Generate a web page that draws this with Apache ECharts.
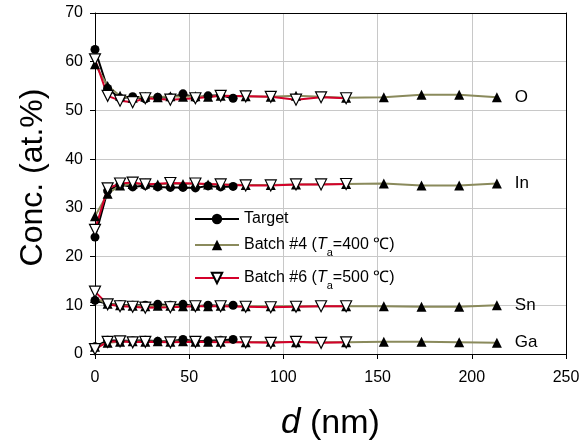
<!DOCTYPE html>
<html><head><meta charset="utf-8">
<script src="https://cdn.jsdelivr.net/npm/echarts@6/dist/echarts.min.js"></script>
<style>html,body{margin:0;padding:0;background:#fff}#c{width:585px;height:443px}</style>
</head><body><div id="c"></div>
<script>
var elements = ['O', 'In', 'Sn', 'Ga'];
var xTicks = [0, 50, 100, 150, 200, 250];
var yTicks = [0, 10, 20, 30, 40, 50, 60, 70];

var targetX = [0, 6.7, 13.3, 20, 26.7, 33.3, 40, 46.7, 53.3, 60, 66.7, 73.3];
var targetO  = [62.5, 54.5, 52.5, 52.8, 52.4, 52.7, 52.6, 53.4, 52.6, 53.0, 53.1, 52.5];
var targetIn = [24.0, 33.5, 34.8, 34.3, 34.6, 34.3, 34.2, 34.2, 34.1, 34.5, 34.3, 34.4];
var targetSn = [11.0, 10.3, 10.1, 10.0, 10.0, 10.2, 10.0, 10.2, 9.8, 10.0, 9.9, 10.0];
var targetGa = [1.5, 2.8, 2.7, 2.7, 2.8, 2.6, 2.6, 3.0, 2.6, 2.7, 2.8, 3.0];

var b4X  = [0, 6.7, 13.3, 20, 26.7, 33.3, 40, 46.7, 53.3, 60, 66.7, 80, 93.3, 106.7, 133.3, 153.3, 173.3, 193.3, 213.3];
var b4O  = [59.5, 55.0, 53.0, 52.6, 52.8, 52.7, 52.9, 52.8, 52.9, 52.8, 53.0, 52.9, 52.8, 53.0, 52.6, 52.7, 53.2, 53.2, 52.7];
var b4In = [28.3, 32.9, 34.6, 34.9, 35.0, 34.8, 35.0, 34.9, 35.0, 34.8, 34.8, 34.7, 34.7, 34.8, 34.9, 35.0, 34.6, 34.6, 35.0];
var b4Sn = [11.5, 10.3, 10.0, 9.9, 9.8, 9.9, 9.9, 9.8, 9.9, 9.8, 9.9, 9.8, 9.8, 9.8, 9.8, 9.8, 9.7, 9.7, 10.0];
var b4Ga = [1.5, 2.3, 2.5, 2.6, 2.5, 2.6, 2.5, 2.6, 2.5, 2.5, 2.5, 2.4, 2.5, 2.4, 2.4, 2.5, 2.5, 2.4, 2.3];

var b6X  = [0, 6.7, 13.3, 20, 26.7, 40, 53.3, 66.7, 80, 93.3, 106.7, 120, 133.3];
var b6O  = [60.5, 53.0, 52.0, 51.7, 52.5, 52.2, 52.5, 53.0, 52.9, 52.8, 52.2, 52.7, 52.5];
var b6In = [25.5, 34.0, 35.0, 35.2, 34.8, 35.1, 35.0, 34.8, 34.6, 34.6, 34.8, 34.8, 34.9];
var b6Sn = [12.8, 10.2, 9.8, 9.7, 9.5, 9.6, 9.8, 9.8, 9.7, 9.6, 9.7, 9.8, 9.8];
var b6Ga = [1.0, 2.5, 2.6, 2.4, 2.5, 2.4, 2.5, 2.4, 2.4, 2.3, 2.5, 2.3, 2.4];

var names = ['Target', 'Batch #4', 'Batch #6'];
var FONT = 'Liberation Sans, Arial, sans-serif';

function pts(xs, ys, label) {
  return xs.map(function (x, i) {
    var d = { value: [x, ys[i]] };
    if (label && i === xs.length - 1) {
      d.label = { show: true, position: 'right', distance: 13, formatter: label,
        color: '#000', fontSize: 17, fontFamily: FONT };
    }
    return d;
  });
}

var series = [];
var groups = [
  { name: names[0], x: targetX, ys: [targetO, targetIn, targetSn, targetGa], color: '#000', symbol: 'circle', size: 9, fill: '#000', rot: 0, labels: false },
  { name: names[1], x: b4X, ys: [b4O, b4In, b4Sn, b4Ga], color: '#8a8a5c', symbol: 'triangle', size: 10, fill: '#000', rot: 0, labels: true },
  { name: names[2], x: b6X, ys: [b6O, b6In, b6Sn, b6Ga], color: '#d4002a', symbol: 'triangle', size: 11, fill: '#fff', rot: 180, labels: false }
];
groups.forEach(function (g) {
  g.ys.forEach(function (ys, k) {
    series.push({
      name: g.name, type: 'line', data: pts(g.x, ys, g.labels ? elements[k] : null),
      symbol: g.symbol, symbolSize: g.size, symbolRotate: g.rot, showAllSymbol: true,
      lineStyle: { color: g.color, width: 2 },
      itemStyle: { color: g.fill, borderColor: '#000', borderWidth: g.fill === '#fff' ? 1.2 : 0 },
      emphasis: { disabled: true }, animation: false, z: 3
    });
  });
});

var rich = {
  n: { fontSize: 16, fontFamily: FONT, color: '#000' },
  i: { fontSize: 16, fontFamily: FONT, color: '#000', fontStyle: 'italic' },
  s: { fontSize: 11, fontFamily: FONT, color: '#000', padding: [16, 0, 0, 0] }
};
function leg(name, top, fmt) {
  return {
    data: [name], left: 189, top: top, orient: 'vertical', itemWidth: 44, itemHeight: 13,
    itemGap: 0, selectedMode: false, formatter: fmt,
    textStyle: { fontSize: 16, fontFamily: FONT, color: '#000', rich: rich, padding: [0, 0, 0, 0] }
  };
}

var chart = echarts.init(document.getElementById('c'), null, { renderer: 'canvas' });
chart.setOption({
  animation: false,
  textStyle: { fontFamily: FONT },
  grid: { left: 95, right: 19, top: 13, bottom: 89, containLabel: false, outerBoundsMode: 'none' },
  legend: [
    leg('Target', 206, function () { return '{n|Target}'; }),
    leg('Batch #4', 232, function () { return '{n|Batch #4 (}{i|T}{s|a}{n|=400 ℃)}'; }),
    leg('Batch #6', 265, function () { return '{n|Batch #6 (}{i|T}{s|a}{n|=500 ℃)}'; })
  ],
  xAxis: [{
    type: 'value', min: xTicks[0], max: xTicks[xTicks.length - 1], interval: 50,
    name: '{i|d} (nm)', nameLocation: 'middle', nameGap: 52,
    nameTextStyle: { fontSize: 34, fontFamily: FONT, color: '#000', rich: { i: { fontSize: 35, fontStyle: 'italic', fontFamily: FONT, color: '#000' } } },
    axisLine: { show: true, lineStyle: { color: '#000', width: 1 } },
    axisTick: { show: true, inside: false, length: 5, lineStyle: { color: '#000' } },
    axisLabel: { fontSize: 16, color: '#000', margin: 16, fontFamily: FONT },
    splitLine: { show: true, lineStyle: { color: '#c8c8c8', width: 1 } }
  }, {
    type: 'value', position: 'top', min: 0, max: 250,
    axisLine: { show: true, onZero: false, lineStyle: { color: '#000', width: 1 } },
    axisTick: { show: false }, axisLabel: { show: false }, splitLine: { show: false }
  }],
  yAxis: [{
    type: 'value', min: yTicks[0], max: yTicks[yTicks.length - 1], interval: 10,
    name: 'Conc. (at.%)', nameLocation: 'middle', nameGap: 46,
    nameTextStyle: { fontSize: 32, fontFamily: FONT, color: '#000', padding: [0, 0, 0, 12] },
    axisLine: { show: true, lineStyle: { color: '#000', width: 1 } },
    axisTick: { show: true, inside: false, length: 5, lineStyle: { color: '#000' } },
    axisLabel: { fontSize: 16, color: '#000', margin: 12, fontFamily: FONT },
    splitLine: { show: true, lineStyle: { color: '#c8c8c8', width: 1 } }
  }, {
    type: 'value', position: 'right', min: 0, max: 70,
    axisLine: { show: true, onZero: false, lineStyle: { color: '#000', width: 1 } },
    axisTick: { show: false }, axisLabel: { show: false }, splitLine: { show: false }
  }],
  series: series
});
</script></body></html>
